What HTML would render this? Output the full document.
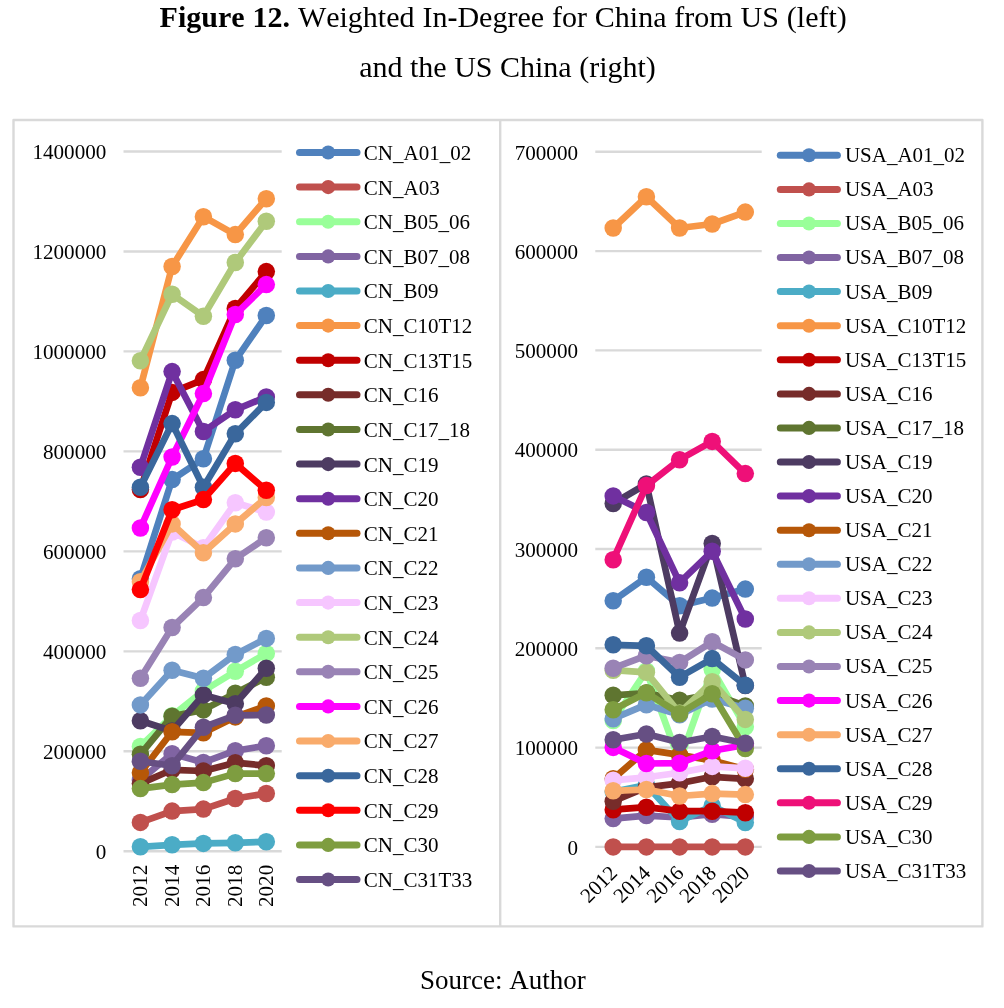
<!DOCTYPE html>
<html><head><meta charset="utf-8"><title>Figure 12</title>
<style>
html,body{margin:0;padding:0;background:#fff}
body{width:1004px;height:1008px;overflow:hidden;font-family:"Liberation Serif","Times New Roman",serif;color:#000}
svg{display:block}
text{font-kerning:none;font-family:"Liberation Serif","Times New Roman",serif;fill:#000}
.ax{font-size:21.1px}
.lg{font-size:21px}
.g{stroke:#D9D9D9;stroke-width:2.4}
.s{fill:none;stroke-linejoin:round;stroke-linecap:round}
</style></head><body>
<svg width="1004" height="1008" viewBox="0 0 1004 1008">
<rect width="1004" height="1008" fill="#fff"/>
<text x="503.2" y="26.5" text-anchor="middle" font-size="30px" word-spacing="0.4"><tspan font-weight="bold">Figure 12.</tspan> Weighted In<tspan font-weight="bold">-</tspan>Degree for China from US (left)</text>
<text x="507.5" y="77" text-anchor="middle" font-size="30px">and the US China (right)</text>
<rect x="13.5" y="120" width="968.9" height="806.4" fill="#fff" stroke="#D9D9D9" stroke-width="2.4" stroke-linejoin="round"/>
<line x1="500.2" y1="120" x2="500.2" y2="926.4" class="g"/>

<line x1="123.5" y1="851.3" x2="281.7" y2="851.3" class="g"/>
<text x="106.3" y="859.0" text-anchor="end" class="ax">0</text>
<line x1="123.5" y1="751.3" x2="281.7" y2="751.3" class="g"/>
<text x="106.3" y="759.0" text-anchor="end" class="ax">200000</text>
<line x1="123.5" y1="651.4" x2="281.7" y2="651.4" class="g"/>
<text x="106.3" y="659.1" text-anchor="end" class="ax">400000</text>
<line x1="123.5" y1="551.4" x2="281.7" y2="551.4" class="g"/>
<text x="106.3" y="559.1" text-anchor="end" class="ax">600000</text>
<line x1="123.5" y1="451.4" x2="281.7" y2="451.4" class="g"/>
<text x="106.3" y="459.1" text-anchor="end" class="ax">800000</text>
<line x1="123.5" y1="351.4" x2="281.7" y2="351.4" class="g"/>
<text x="106.3" y="359.1" text-anchor="end" class="ax">1000000</text>
<line x1="123.5" y1="251.5" x2="281.7" y2="251.5" class="g"/>
<text x="106.3" y="259.2" text-anchor="end" class="ax">1200000</text>
<line x1="123.5" y1="151.5" x2="281.7" y2="151.5" class="g"/>
<text x="106.3" y="159.2" text-anchor="end" class="ax">1400000</text>
<line x1="595.3" y1="846.9" x2="761.7" y2="846.9" class="g"/>
<text x="578" y="854.6" text-anchor="end" class="ax">0</text>
<line x1="595.3" y1="747.6" x2="761.7" y2="747.6" class="g"/>
<text x="578" y="755.3" text-anchor="end" class="ax">100000</text>
<line x1="595.3" y1="648.3" x2="761.7" y2="648.3" class="g"/>
<text x="578" y="656.0" text-anchor="end" class="ax">200000</text>
<line x1="595.3" y1="549.0" x2="761.7" y2="549.0" class="g"/>
<text x="578" y="556.7" text-anchor="end" class="ax">300000</text>
<line x1="595.3" y1="449.7" x2="761.7" y2="449.7" class="g"/>
<text x="578" y="457.4" text-anchor="end" class="ax">400000</text>
<line x1="595.3" y1="350.4" x2="761.7" y2="350.4" class="g"/>
<text x="578" y="358.1" text-anchor="end" class="ax">500000</text>
<line x1="595.3" y1="251.1" x2="761.7" y2="251.1" class="g"/>
<text x="578" y="258.8" text-anchor="end" class="ax">600000</text>
<line x1="595.3" y1="151.8" x2="761.7" y2="151.8" class="g"/>
<text x="578" y="159.5" text-anchor="end" class="ax">700000</text>
<g fill="#4F81BD" stroke="#4F81BD"><polyline points="140.4,578.7 172.1,479.6 203.4,458.8 235.3,360.3 266.3,315.5" class="s" stroke-width="6.7"/><circle cx="140.4" cy="578.7" r="8.75" stroke="none"/><circle cx="172.1" cy="479.6" r="8.75" stroke="none"/><circle cx="203.4" cy="458.8" r="8.75" stroke="none"/><circle cx="235.3" cy="360.3" r="8.75" stroke="none"/><circle cx="266.3" cy="315.5" r="8.75" stroke="none"/></g>
<g fill="#C0504D" stroke="#C0504D"><polyline points="140.4,822.4 172.1,811.1 203.4,809.1 235.3,798.5 266.3,793.5" class="s" stroke-width="6.7"/><circle cx="140.4" cy="822.4" r="8.75" stroke="none"/><circle cx="172.1" cy="811.1" r="8.75" stroke="none"/><circle cx="203.4" cy="809.1" r="8.75" stroke="none"/><circle cx="235.3" cy="798.5" r="8.75" stroke="none"/><circle cx="266.3" cy="793.5" r="8.75" stroke="none"/></g>
<g fill="#99FF99" stroke="#99FF99"><polyline points="140.4,746.5 172.1,715.8 203.4,691.0 235.3,671.3 266.3,653.4" class="s" stroke-width="6.7"/><circle cx="140.4" cy="746.5" r="8.75" stroke="none"/><circle cx="172.1" cy="715.8" r="8.75" stroke="none"/><circle cx="203.4" cy="691.0" r="8.75" stroke="none"/><circle cx="235.3" cy="671.3" r="8.75" stroke="none"/><circle cx="266.3" cy="653.4" r="8.75" stroke="none"/></g>
<g fill="#8064A2" stroke="#8064A2"><polyline points="140.4,780.0 172.1,753.7 203.4,762.4 235.3,750.7 266.3,745.7" class="s" stroke-width="6.7"/><circle cx="140.4" cy="780.0" r="8.75" stroke="none"/><circle cx="172.1" cy="753.7" r="8.75" stroke="none"/><circle cx="203.4" cy="762.4" r="8.75" stroke="none"/><circle cx="235.3" cy="750.7" r="8.75" stroke="none"/><circle cx="266.3" cy="745.7" r="8.75" stroke="none"/></g>
<g fill="#4BACC6" stroke="#4BACC6"><polyline points="140.4,846.8 172.1,844.8 203.4,843.4 235.3,842.8 266.3,841.8" class="s" stroke-width="6.7"/><circle cx="140.4" cy="846.8" r="8.75" stroke="none"/><circle cx="172.1" cy="844.8" r="8.75" stroke="none"/><circle cx="203.4" cy="843.4" r="8.75" stroke="none"/><circle cx="235.3" cy="842.8" r="8.75" stroke="none"/><circle cx="266.3" cy="841.8" r="8.75" stroke="none"/></g>
<g fill="#F79646" stroke="#F79646"><polyline points="140.4,387.7 172.1,266.5 203.4,216.7 235.3,234.6 266.3,198.7" class="s" stroke-width="6.7"/><circle cx="140.4" cy="387.7" r="8.75" stroke="none"/><circle cx="172.1" cy="266.5" r="8.75" stroke="none"/><circle cx="203.4" cy="216.7" r="8.75" stroke="none"/><circle cx="235.3" cy="234.6" r="8.75" stroke="none"/><circle cx="266.3" cy="198.7" r="8.75" stroke="none"/></g>
<g fill="#C00000" stroke="#C00000"><polyline points="140.4,489.5 172.1,392.4 203.4,379.6 235.3,308.5 266.3,271.6" class="s" stroke-width="6.7"/><circle cx="140.4" cy="489.5" r="8.75" stroke="none"/><circle cx="172.1" cy="392.4" r="8.75" stroke="none"/><circle cx="203.4" cy="379.6" r="8.75" stroke="none"/><circle cx="235.3" cy="308.5" r="8.75" stroke="none"/><circle cx="266.3" cy="271.6" r="8.75" stroke="none"/></g>
<g fill="#772C2A" stroke="#772C2A"><polyline points="140.4,783.6 172.1,769.8 203.4,771.0 235.3,762.7 266.3,765.7" class="s" stroke-width="6.7"/><circle cx="140.4" cy="783.6" r="8.75" stroke="none"/><circle cx="172.1" cy="769.8" r="8.75" stroke="none"/><circle cx="203.4" cy="771.0" r="8.75" stroke="none"/><circle cx="235.3" cy="762.7" r="8.75" stroke="none"/><circle cx="266.3" cy="765.7" r="8.75" stroke="none"/></g>
<g fill="#5F7530" stroke="#5F7530"><polyline points="140.4,754.3 172.1,716.2 203.4,709.9 235.3,693.3 266.3,677.3" class="s" stroke-width="6.7"/><circle cx="140.4" cy="754.3" r="8.75" stroke="none"/><circle cx="172.1" cy="716.2" r="8.75" stroke="none"/><circle cx="203.4" cy="709.9" r="8.75" stroke="none"/><circle cx="235.3" cy="693.3" r="8.75" stroke="none"/><circle cx="266.3" cy="677.3" r="8.75" stroke="none"/></g>
<g fill="#4D3B62" stroke="#4D3B62"><polyline points="140.4,720.8 172.1,731.0 203.4,694.9 235.3,703.7 266.3,668.3" class="s" stroke-width="6.7"/><circle cx="140.4" cy="720.8" r="8.75" stroke="none"/><circle cx="172.1" cy="731.0" r="8.75" stroke="none"/><circle cx="203.4" cy="694.9" r="8.75" stroke="none"/><circle cx="235.3" cy="703.7" r="8.75" stroke="none"/><circle cx="266.3" cy="668.3" r="8.75" stroke="none"/></g>
<g fill="#7030A0" stroke="#7030A0"><polyline points="140.4,467.2 172.1,371.6 203.4,431.5 235.3,409.8 266.3,396.9" class="s" stroke-width="6.7"/><circle cx="140.4" cy="467.2" r="8.75" stroke="none"/><circle cx="172.1" cy="371.6" r="8.75" stroke="none"/><circle cx="203.4" cy="431.5" r="8.75" stroke="none"/><circle cx="235.3" cy="409.8" r="8.75" stroke="none"/><circle cx="266.3" cy="396.9" r="8.75" stroke="none"/></g>
<g fill="#B65708" stroke="#B65708"><polyline points="140.4,772.7 172.1,731.8 203.4,732.8 235.3,716.9 266.3,705.9" class="s" stroke-width="6.7"/><circle cx="140.4" cy="772.7" r="8.75" stroke="none"/><circle cx="172.1" cy="731.8" r="8.75" stroke="none"/><circle cx="203.4" cy="732.8" r="8.75" stroke="none"/><circle cx="235.3" cy="716.9" r="8.75" stroke="none"/><circle cx="266.3" cy="705.9" r="8.75" stroke="none"/></g>
<g fill="#729ACA" stroke="#729ACA"><polyline points="140.4,704.9 172.1,670.3 203.4,678.3 235.3,654.4 266.3,638.4" class="s" stroke-width="6.7"/><circle cx="140.4" cy="704.9" r="8.75" stroke="none"/><circle cx="172.1" cy="670.3" r="8.75" stroke="none"/><circle cx="203.4" cy="678.3" r="8.75" stroke="none"/><circle cx="235.3" cy="654.4" r="8.75" stroke="none"/><circle cx="266.3" cy="638.4" r="8.75" stroke="none"/></g>
<g fill="#F6C6FF" stroke="#F6C6FF"><polyline points="140.4,620.5 172.1,532.0 203.4,547.8 235.3,502.8 266.3,512.1" class="s" stroke-width="6.7"/><circle cx="140.4" cy="620.5" r="8.75" stroke="none"/><circle cx="172.1" cy="532.0" r="8.75" stroke="none"/><circle cx="203.4" cy="547.8" r="8.75" stroke="none"/><circle cx="235.3" cy="502.8" r="8.75" stroke="none"/><circle cx="266.3" cy="512.1" r="8.75" stroke="none"/></g>
<g fill="#AFC97A" stroke="#AFC97A"><polyline points="140.4,360.8 172.1,294.3 203.4,316.3 235.3,262.5 266.3,221.2" class="s" stroke-width="6.7"/><circle cx="140.4" cy="360.8" r="8.75" stroke="none"/><circle cx="172.1" cy="294.3" r="8.75" stroke="none"/><circle cx="203.4" cy="316.3" r="8.75" stroke="none"/><circle cx="235.3" cy="262.5" r="8.75" stroke="none"/><circle cx="266.3" cy="221.2" r="8.75" stroke="none"/></g>
<g fill="#9983B5" stroke="#9983B5"><polyline points="140.4,678.3 172.1,627.5 203.4,597.6 235.3,558.8 266.3,537.8" class="s" stroke-width="6.7"/><circle cx="140.4" cy="678.3" r="8.75" stroke="none"/><circle cx="172.1" cy="627.5" r="8.75" stroke="none"/><circle cx="203.4" cy="597.6" r="8.75" stroke="none"/><circle cx="235.3" cy="558.8" r="8.75" stroke="none"/><circle cx="266.3" cy="537.8" r="8.75" stroke="none"/></g>
<g fill="#FF00FF" stroke="#FF00FF"><polyline points="140.4,528.0 172.1,457.0 203.4,393.6 235.3,314.5 266.3,284.6" class="s" stroke-width="6.7"/><circle cx="140.4" cy="528.0" r="8.75" stroke="none"/><circle cx="172.1" cy="457.0" r="8.75" stroke="none"/><circle cx="203.4" cy="393.6" r="8.75" stroke="none"/><circle cx="235.3" cy="314.5" r="8.75" stroke="none"/><circle cx="266.3" cy="284.6" r="8.75" stroke="none"/></g>
<g fill="#F9AB6B" stroke="#F9AB6B"><polyline points="140.4,581.7 172.1,523.9 203.4,552.8 235.3,523.9 266.3,497.5" class="s" stroke-width="6.7"/><circle cx="140.4" cy="581.7" r="8.75" stroke="none"/><circle cx="172.1" cy="523.9" r="8.75" stroke="none"/><circle cx="203.4" cy="552.8" r="8.75" stroke="none"/><circle cx="235.3" cy="523.9" r="8.75" stroke="none"/><circle cx="266.3" cy="497.5" r="8.75" stroke="none"/></g>
<g fill="#3A679C" stroke="#3A679C"><polyline points="140.4,487.3 172.1,423.6 203.4,487.2 235.3,433.8 266.3,402.4" class="s" stroke-width="6.7"/><circle cx="140.4" cy="487.3" r="8.75" stroke="none"/><circle cx="172.1" cy="423.6" r="8.75" stroke="none"/><circle cx="203.4" cy="487.2" r="8.75" stroke="none"/><circle cx="235.3" cy="433.8" r="8.75" stroke="none"/><circle cx="266.3" cy="402.4" r="8.75" stroke="none"/></g>
<g fill="#FF0000" stroke="#FF0000"><polyline points="140.4,589.6 172.1,509.8 203.4,499.6 235.3,463.4 266.3,490.3" class="s" stroke-width="6.7"/><circle cx="140.4" cy="589.6" r="8.75" stroke="none"/><circle cx="172.1" cy="509.8" r="8.75" stroke="none"/><circle cx="203.4" cy="499.6" r="8.75" stroke="none"/><circle cx="235.3" cy="463.4" r="8.75" stroke="none"/><circle cx="266.3" cy="490.3" r="8.75" stroke="none"/></g>
<g fill="#7E9D40" stroke="#7E9D40"><polyline points="140.4,788.6 172.1,784.6 203.4,782.6 235.3,773.6 266.3,773.6" class="s" stroke-width="6.7"/><circle cx="140.4" cy="788.6" r="8.75" stroke="none"/><circle cx="172.1" cy="784.6" r="8.75" stroke="none"/><circle cx="203.4" cy="782.6" r="8.75" stroke="none"/><circle cx="235.3" cy="773.6" r="8.75" stroke="none"/><circle cx="266.3" cy="773.6" r="8.75" stroke="none"/></g>
<g fill="#664F83" stroke="#664F83"><polyline points="140.4,761.3 172.1,765.7 203.4,727.2 235.3,715.3 266.3,715.0" class="s" stroke-width="6.7"/><circle cx="140.4" cy="761.3" r="8.75" stroke="none"/><circle cx="172.1" cy="765.7" r="8.75" stroke="none"/><circle cx="203.4" cy="727.2" r="8.75" stroke="none"/><circle cx="235.3" cy="715.3" r="8.75" stroke="none"/><circle cx="266.3" cy="715.0" r="8.75" stroke="none"/></g>
<g fill="#4F81BD" stroke="#4F81BD"><polyline points="613.2,600.7 646.4,577.2 679.6,605.7 712.2,598.1 745.3,589.1" class="s" stroke-width="6.7"/><circle cx="613.2" cy="600.7" r="8.75" stroke="none"/><circle cx="646.4" cy="577.2" r="8.75" stroke="none"/><circle cx="679.6" cy="605.7" r="8.75" stroke="none"/><circle cx="712.2" cy="598.1" r="8.75" stroke="none"/><circle cx="745.3" cy="589.1" r="8.75" stroke="none"/></g>
<g fill="#C0504D" stroke="#C0504D"><polyline points="613.2,846.9 646.4,846.9 679.6,846.9 712.2,846.9 745.3,846.9" class="s" stroke-width="6.7"/><circle cx="613.2" cy="846.9" r="8.75" stroke="none"/><circle cx="646.4" cy="846.9" r="8.75" stroke="none"/><circle cx="679.6" cy="846.9" r="8.75" stroke="none"/><circle cx="712.2" cy="846.9" r="8.75" stroke="none"/><circle cx="745.3" cy="846.9" r="8.75" stroke="none"/></g>
<g fill="#99FF99" stroke="#99FF99"><polyline points="613.2,720.5 646.4,670.9 679.6,761.5 712.2,669.3 745.3,726.7" class="s" stroke-width="6.7"/><circle cx="613.2" cy="720.5" r="8.75" stroke="none"/><circle cx="646.4" cy="670.9" r="8.75" stroke="none"/><circle cx="679.6" cy="761.5" r="8.75" stroke="none"/><circle cx="712.2" cy="669.3" r="8.75" stroke="none"/><circle cx="745.3" cy="726.7" r="8.75" stroke="none"/></g>
<g fill="#8064A2" stroke="#8064A2"><polyline points="613.2,818.6 646.4,815.6 679.6,817.5 712.2,814.2 745.3,817.0" class="s" stroke-width="6.7"/><circle cx="613.2" cy="818.6" r="8.75" stroke="none"/><circle cx="646.4" cy="815.6" r="8.75" stroke="none"/><circle cx="679.6" cy="817.5" r="8.75" stroke="none"/><circle cx="712.2" cy="814.2" r="8.75" stroke="none"/><circle cx="745.3" cy="817.0" r="8.75" stroke="none"/></g>
<g fill="#4BACC6" stroke="#4BACC6"><polyline points="613.2,791.8 646.4,785.0 679.6,821.5 712.2,805.7 745.3,822.6" class="s" stroke-width="6.7"/><circle cx="613.2" cy="791.8" r="8.75" stroke="none"/><circle cx="646.4" cy="785.0" r="8.75" stroke="none"/><circle cx="679.6" cy="821.5" r="8.75" stroke="none"/><circle cx="712.2" cy="805.7" r="8.75" stroke="none"/><circle cx="745.3" cy="822.6" r="8.75" stroke="none"/></g>
<g fill="#F79646" stroke="#F79646"><polyline points="613.2,228.0 646.4,196.7 679.6,228.0 712.2,224.0 745.3,212.1" class="s" stroke-width="6.7"/><circle cx="613.2" cy="228.0" r="8.75" stroke="none"/><circle cx="646.4" cy="196.7" r="8.75" stroke="none"/><circle cx="679.6" cy="228.0" r="8.75" stroke="none"/><circle cx="712.2" cy="224.0" r="8.75" stroke="none"/><circle cx="745.3" cy="212.1" r="8.75" stroke="none"/></g>
<g fill="#C00000" stroke="#C00000"><polyline points="613.2,809.7 646.4,807.2 679.6,811.2 712.2,811.2 745.3,812.7" class="s" stroke-width="6.7"/><circle cx="613.2" cy="809.7" r="8.75" stroke="none"/><circle cx="646.4" cy="807.2" r="8.75" stroke="none"/><circle cx="679.6" cy="811.2" r="8.75" stroke="none"/><circle cx="712.2" cy="811.2" r="8.75" stroke="none"/><circle cx="745.3" cy="812.7" r="8.75" stroke="none"/></g>
<g fill="#772C2A" stroke="#772C2A"><polyline points="613.2,801.2 646.4,787.3 679.6,783.3 712.2,776.8 745.3,778.8" class="s" stroke-width="6.7"/><circle cx="613.2" cy="801.2" r="8.75" stroke="none"/><circle cx="646.4" cy="787.3" r="8.75" stroke="none"/><circle cx="679.6" cy="783.3" r="8.75" stroke="none"/><circle cx="712.2" cy="776.8" r="8.75" stroke="none"/><circle cx="745.3" cy="778.8" r="8.75" stroke="none"/></g>
<g fill="#5F7530" stroke="#5F7530"><polyline points="613.2,695.3 646.4,693.0 679.6,700.3 712.2,694.0 745.3,706.0" class="s" stroke-width="6.7"/><circle cx="613.2" cy="695.3" r="8.75" stroke="none"/><circle cx="646.4" cy="693.0" r="8.75" stroke="none"/><circle cx="679.6" cy="700.3" r="8.75" stroke="none"/><circle cx="712.2" cy="694.0" r="8.75" stroke="none"/><circle cx="745.3" cy="706.0" r="8.75" stroke="none"/></g>
<g fill="#4D3B62" stroke="#4D3B62"><polyline points="613.2,503.5 646.4,484.0 679.6,633.1 712.2,543.4 745.3,685.5" class="s" stroke-width="6.7"/><circle cx="613.2" cy="503.5" r="8.75" stroke="none"/><circle cx="646.4" cy="484.0" r="8.75" stroke="none"/><circle cx="679.6" cy="633.1" r="8.75" stroke="none"/><circle cx="712.2" cy="543.4" r="8.75" stroke="none"/><circle cx="745.3" cy="685.5" r="8.75" stroke="none"/></g>
<g fill="#7030A0" stroke="#7030A0"><polyline points="613.2,495.9 646.4,512.5 679.6,582.7 712.2,551.2 745.3,619.0" class="s" stroke-width="6.7"/><circle cx="613.2" cy="495.9" r="8.75" stroke="none"/><circle cx="646.4" cy="512.5" r="8.75" stroke="none"/><circle cx="679.6" cy="582.7" r="8.75" stroke="none"/><circle cx="712.2" cy="551.2" r="8.75" stroke="none"/><circle cx="745.3" cy="619.0" r="8.75" stroke="none"/></g>
<g fill="#B65708" stroke="#B65708"><polyline points="613.2,778.8 646.4,749.9 679.6,754.9 712.2,760.5 745.3,769.3" class="s" stroke-width="6.7"/><circle cx="613.2" cy="778.8" r="8.75" stroke="none"/><circle cx="646.4" cy="749.9" r="8.75" stroke="none"/><circle cx="679.6" cy="754.9" r="8.75" stroke="none"/><circle cx="712.2" cy="760.5" r="8.75" stroke="none"/><circle cx="745.3" cy="769.3" r="8.75" stroke="none"/></g>
<g fill="#729ACA" stroke="#729ACA"><polyline points="613.2,718.7 646.4,704.7 679.6,714.7 712.2,699.0 745.3,708.3" class="s" stroke-width="6.7"/><circle cx="613.2" cy="718.7" r="8.75" stroke="none"/><circle cx="646.4" cy="704.7" r="8.75" stroke="none"/><circle cx="679.6" cy="714.7" r="8.75" stroke="none"/><circle cx="712.2" cy="699.0" r="8.75" stroke="none"/><circle cx="745.3" cy="708.3" r="8.75" stroke="none"/></g>
<g fill="#F6C6FF" stroke="#F6C6FF"><polyline points="613.2,780.3 646.4,777.3 679.6,772.8 712.2,766.4 745.3,768.3" class="s" stroke-width="6.7"/><circle cx="613.2" cy="780.3" r="8.75" stroke="none"/><circle cx="646.4" cy="777.3" r="8.75" stroke="none"/><circle cx="679.6" cy="772.8" r="8.75" stroke="none"/><circle cx="712.2" cy="766.4" r="8.75" stroke="none"/><circle cx="745.3" cy="768.3" r="8.75" stroke="none"/></g>
<g fill="#AFC97A" stroke="#AFC97A"><polyline points="613.2,670.2 646.4,672.3 679.6,713.0 712.2,681.8 745.3,719.4" class="s" stroke-width="6.7"/><circle cx="613.2" cy="670.2" r="8.75" stroke="none"/><circle cx="646.4" cy="672.3" r="8.75" stroke="none"/><circle cx="679.6" cy="713.0" r="8.75" stroke="none"/><circle cx="712.2" cy="681.8" r="8.75" stroke="none"/><circle cx="745.3" cy="719.4" r="8.75" stroke="none"/></g>
<g fill="#9983B5" stroke="#9983B5"><polyline points="613.2,668.2 646.4,655.7 679.6,662.4 712.2,641.8 745.3,659.9" class="s" stroke-width="6.7"/><circle cx="613.2" cy="668.2" r="8.75" stroke="none"/><circle cx="646.4" cy="655.7" r="8.75" stroke="none"/><circle cx="679.6" cy="662.4" r="8.75" stroke="none"/><circle cx="712.2" cy="641.8" r="8.75" stroke="none"/><circle cx="745.3" cy="659.9" r="8.75" stroke="none"/></g>
<g fill="#FF00FF" stroke="#FF00FF"><polyline points="613.2,747.4 646.4,763.5 679.6,763.2 712.2,750.8 745.3,745.0" class="s" stroke-width="6.7"/><circle cx="613.2" cy="747.4" r="8.75" stroke="none"/><circle cx="646.4" cy="763.5" r="8.75" stroke="none"/><circle cx="679.6" cy="763.2" r="8.75" stroke="none"/><circle cx="712.2" cy="750.8" r="8.75" stroke="none"/><circle cx="745.3" cy="745.0" r="8.75" stroke="none"/></g>
<g fill="#F9AB6B" stroke="#F9AB6B"><polyline points="613.2,790.8 646.4,789.5 679.6,796.0 712.2,793.6 745.3,794.6" class="s" stroke-width="6.7"/><circle cx="613.2" cy="790.8" r="8.75" stroke="none"/><circle cx="646.4" cy="789.5" r="8.75" stroke="none"/><circle cx="679.6" cy="796.0" r="8.75" stroke="none"/><circle cx="712.2" cy="793.6" r="8.75" stroke="none"/><circle cx="745.3" cy="794.6" r="8.75" stroke="none"/></g>
<g fill="#3A679C" stroke="#3A679C"><polyline points="613.2,644.8 646.4,645.8 679.6,677.2 712.2,658.6 745.3,685.3" class="s" stroke-width="6.7"/><circle cx="613.2" cy="644.8" r="8.75" stroke="none"/><circle cx="646.4" cy="645.8" r="8.75" stroke="none"/><circle cx="679.6" cy="677.2" r="8.75" stroke="none"/><circle cx="712.2" cy="658.6" r="8.75" stroke="none"/><circle cx="745.3" cy="685.3" r="8.75" stroke="none"/></g>
<g fill="#EE1078" stroke="#EE1078"><polyline points="613.2,559.7 646.4,485.6 679.6,459.7 712.2,441.4 745.3,473.6" class="s" stroke-width="6.7"/><circle cx="613.2" cy="559.7" r="8.75" stroke="none"/><circle cx="646.4" cy="485.6" r="8.75" stroke="none"/><circle cx="679.6" cy="459.7" r="8.75" stroke="none"/><circle cx="712.2" cy="441.4" r="8.75" stroke="none"/><circle cx="745.3" cy="473.6" r="8.75" stroke="none"/></g>
<g fill="#7E9D40" stroke="#7E9D40"><polyline points="613.2,709.7 646.4,692.8 679.6,713.7 712.2,693.8 745.3,748.5" class="s" stroke-width="6.7"/><circle cx="613.2" cy="709.7" r="8.75" stroke="none"/><circle cx="646.4" cy="692.8" r="8.75" stroke="none"/><circle cx="679.6" cy="713.7" r="8.75" stroke="none"/><circle cx="712.2" cy="693.8" r="8.75" stroke="none"/><circle cx="745.3" cy="748.5" r="8.75" stroke="none"/></g>
<g fill="#664F83" stroke="#664F83"><polyline points="613.2,739.8 646.4,734.0 679.6,742.5 712.2,736.5 745.3,743.3" class="s" stroke-width="6.7"/><circle cx="613.2" cy="739.8" r="8.75" stroke="none"/><circle cx="646.4" cy="734.0" r="8.75" stroke="none"/><circle cx="679.6" cy="742.5" r="8.75" stroke="none"/><circle cx="712.2" cy="736.5" r="8.75" stroke="none"/><circle cx="745.3" cy="743.3" r="8.75" stroke="none"/></g>
<text transform="translate(147.4,864.8) rotate(-90)" text-anchor="end" class="ax">2012</text>
<text transform="translate(179.1,864.8) rotate(-90)" text-anchor="end" class="ax">2014</text>
<text transform="translate(210.4,864.8) rotate(-90)" text-anchor="end" class="ax">2016</text>
<text transform="translate(242.3,864.8) rotate(-90)" text-anchor="end" class="ax">2018</text>
<text transform="translate(273.3,864.8) rotate(-90)" text-anchor="end" class="ax">2020</text>
<text transform="translate(618.5,874.2) rotate(-45)" text-anchor="end" class="ax">2012</text>
<text transform="translate(651.7,874.2) rotate(-45)" text-anchor="end" class="ax">2014</text>
<text transform="translate(684.9,874.2) rotate(-45)" text-anchor="end" class="ax">2016</text>
<text transform="translate(717.5,874.2) rotate(-45)" text-anchor="end" class="ax">2018</text>
<text transform="translate(750.6,874.2) rotate(-45)" text-anchor="end" class="ax">2020</text>
<g stroke="#4F81BD" fill="#4F81BD"><line x1="299.5" y1="152.5" x2="357" y2="152.5" stroke-width="7" stroke-linecap="round"/><circle cx="328.2" cy="152.5" r="7.05" stroke="none"/></g>
<text x="363.8" y="159.9" class="lg">CN_A01_02</text>
<g stroke="#C0504D" fill="#C0504D"><line x1="299.5" y1="187.1" x2="357" y2="187.1" stroke-width="7" stroke-linecap="round"/><circle cx="328.2" cy="187.1" r="7.05" stroke="none"/></g>
<text x="363.8" y="194.5" class="lg">CN_A03</text>
<g stroke="#99FF99" fill="#99FF99"><line x1="299.5" y1="221.7" x2="357" y2="221.7" stroke-width="7" stroke-linecap="round"/><circle cx="328.2" cy="221.7" r="7.05" stroke="none"/></g>
<text x="363.8" y="229.1" class="lg">CN_B05_06</text>
<g stroke="#8064A2" fill="#8064A2"><line x1="299.5" y1="256.4" x2="357" y2="256.4" stroke-width="7" stroke-linecap="round"/><circle cx="328.2" cy="256.4" r="7.05" stroke="none"/></g>
<text x="363.8" y="263.8" class="lg">CN_B07_08</text>
<g stroke="#4BACC6" fill="#4BACC6"><line x1="299.5" y1="291.0" x2="357" y2="291.0" stroke-width="7" stroke-linecap="round"/><circle cx="328.2" cy="291.0" r="7.05" stroke="none"/></g>
<text x="363.8" y="298.4" class="lg">CN_B09</text>
<g stroke="#F79646" fill="#F79646"><line x1="299.5" y1="325.6" x2="357" y2="325.6" stroke-width="7" stroke-linecap="round"/><circle cx="328.2" cy="325.6" r="7.05" stroke="none"/></g>
<text x="363.8" y="333.0" class="lg">CN_C10T12</text>
<g stroke="#C00000" fill="#C00000"><line x1="299.5" y1="360.2" x2="357" y2="360.2" stroke-width="7" stroke-linecap="round"/><circle cx="328.2" cy="360.2" r="7.05" stroke="none"/></g>
<text x="363.8" y="367.6" class="lg">CN_C13T15</text>
<g stroke="#772C2A" fill="#772C2A"><line x1="299.5" y1="394.8" x2="357" y2="394.8" stroke-width="7" stroke-linecap="round"/><circle cx="328.2" cy="394.8" r="7.05" stroke="none"/></g>
<text x="363.8" y="402.2" class="lg">CN_C16</text>
<g stroke="#5F7530" fill="#5F7530"><line x1="299.5" y1="429.5" x2="357" y2="429.5" stroke-width="7" stroke-linecap="round"/><circle cx="328.2" cy="429.5" r="7.05" stroke="none"/></g>
<text x="363.8" y="436.9" class="lg">CN_C17_18</text>
<g stroke="#4D3B62" fill="#4D3B62"><line x1="299.5" y1="464.1" x2="357" y2="464.1" stroke-width="7" stroke-linecap="round"/><circle cx="328.2" cy="464.1" r="7.05" stroke="none"/></g>
<text x="363.8" y="471.5" class="lg">CN_C19</text>
<g stroke="#7030A0" fill="#7030A0"><line x1="299.5" y1="498.7" x2="357" y2="498.7" stroke-width="7" stroke-linecap="round"/><circle cx="328.2" cy="498.7" r="7.05" stroke="none"/></g>
<text x="363.8" y="506.1" class="lg">CN_C20</text>
<g stroke="#B65708" fill="#B65708"><line x1="299.5" y1="533.3" x2="357" y2="533.3" stroke-width="7" stroke-linecap="round"/><circle cx="328.2" cy="533.3" r="7.05" stroke="none"/></g>
<text x="363.8" y="540.7" class="lg">CN_C21</text>
<g stroke="#729ACA" fill="#729ACA"><line x1="299.5" y1="567.9" x2="357" y2="567.9" stroke-width="7" stroke-linecap="round"/><circle cx="328.2" cy="567.9" r="7.05" stroke="none"/></g>
<text x="363.8" y="575.3" class="lg">CN_C22</text>
<g stroke="#F6C6FF" fill="#F6C6FF"><line x1="299.5" y1="602.6" x2="357" y2="602.6" stroke-width="7" stroke-linecap="round"/><circle cx="328.2" cy="602.6" r="7.05" stroke="none"/></g>
<text x="363.8" y="610.0" class="lg">CN_C23</text>
<g stroke="#AFC97A" fill="#AFC97A"><line x1="299.5" y1="637.2" x2="357" y2="637.2" stroke-width="7" stroke-linecap="round"/><circle cx="328.2" cy="637.2" r="7.05" stroke="none"/></g>
<text x="363.8" y="644.6" class="lg">CN_C24</text>
<g stroke="#9983B5" fill="#9983B5"><line x1="299.5" y1="671.8" x2="357" y2="671.8" stroke-width="7" stroke-linecap="round"/><circle cx="328.2" cy="671.8" r="7.05" stroke="none"/></g>
<text x="363.8" y="679.2" class="lg">CN_C25</text>
<g stroke="#FF00FF" fill="#FF00FF"><line x1="299.5" y1="706.4" x2="357" y2="706.4" stroke-width="7" stroke-linecap="round"/><circle cx="328.2" cy="706.4" r="7.05" stroke="none"/></g>
<text x="363.8" y="713.8" class="lg">CN_C26</text>
<g stroke="#F9AB6B" fill="#F9AB6B"><line x1="299.5" y1="741.0" x2="357" y2="741.0" stroke-width="7" stroke-linecap="round"/><circle cx="328.2" cy="741.0" r="7.05" stroke="none"/></g>
<text x="363.8" y="748.4" class="lg">CN_C27</text>
<g stroke="#3A679C" fill="#3A679C"><line x1="299.5" y1="775.7" x2="357" y2="775.7" stroke-width="7" stroke-linecap="round"/><circle cx="328.2" cy="775.7" r="7.05" stroke="none"/></g>
<text x="363.8" y="783.1" class="lg">CN_C28</text>
<g stroke="#FF0000" fill="#FF0000"><line x1="299.5" y1="810.3" x2="357" y2="810.3" stroke-width="7" stroke-linecap="round"/><circle cx="328.2" cy="810.3" r="7.05" stroke="none"/></g>
<text x="363.8" y="817.7" class="lg">CN_C29</text>
<g stroke="#7E9D40" fill="#7E9D40"><line x1="299.5" y1="844.9" x2="357" y2="844.9" stroke-width="7" stroke-linecap="round"/><circle cx="328.2" cy="844.9" r="7.05" stroke="none"/></g>
<text x="363.8" y="852.3" class="lg">CN_C30</text>
<g stroke="#664F83" fill="#664F83"><line x1="299.5" y1="879.5" x2="357" y2="879.5" stroke-width="7" stroke-linecap="round"/><circle cx="328.2" cy="879.5" r="7.05" stroke="none"/></g>
<text x="363.8" y="886.9" class="lg">CN_C31T33</text>
<g stroke="#4F81BD" fill="#4F81BD"><line x1="780.3" y1="155.3" x2="837.4" y2="155.3" stroke-width="7" stroke-linecap="round"/><circle cx="809" cy="155.3" r="7.05" stroke="none"/></g>
<text x="844.9" y="162.2" class="lg">USA_A01_02</text>
<g stroke="#C0504D" fill="#C0504D"><line x1="780.3" y1="189.4" x2="837.4" y2="189.4" stroke-width="7" stroke-linecap="round"/><circle cx="809" cy="189.4" r="7.05" stroke="none"/></g>
<text x="844.9" y="196.3" class="lg">USA_A03</text>
<g stroke="#99FF99" fill="#99FF99"><line x1="780.3" y1="223.5" x2="837.4" y2="223.5" stroke-width="7" stroke-linecap="round"/><circle cx="809" cy="223.5" r="7.05" stroke="none"/></g>
<text x="844.9" y="230.4" class="lg">USA_B05_06</text>
<g stroke="#8064A2" fill="#8064A2"><line x1="780.3" y1="257.5" x2="837.4" y2="257.5" stroke-width="7" stroke-linecap="round"/><circle cx="809" cy="257.5" r="7.05" stroke="none"/></g>
<text x="844.9" y="264.4" class="lg">USA_B07_08</text>
<g stroke="#4BACC6" fill="#4BACC6"><line x1="780.3" y1="291.6" x2="837.4" y2="291.6" stroke-width="7" stroke-linecap="round"/><circle cx="809" cy="291.6" r="7.05" stroke="none"/></g>
<text x="844.9" y="298.5" class="lg">USA_B09</text>
<g stroke="#F79646" fill="#F79646"><line x1="780.3" y1="325.7" x2="837.4" y2="325.7" stroke-width="7" stroke-linecap="round"/><circle cx="809" cy="325.7" r="7.05" stroke="none"/></g>
<text x="844.9" y="332.6" class="lg">USA_C10T12</text>
<g stroke="#C00000" fill="#C00000"><line x1="780.3" y1="359.8" x2="837.4" y2="359.8" stroke-width="7" stroke-linecap="round"/><circle cx="809" cy="359.8" r="7.05" stroke="none"/></g>
<text x="844.9" y="366.7" class="lg">USA_C13T15</text>
<g stroke="#772C2A" fill="#772C2A"><line x1="780.3" y1="393.9" x2="837.4" y2="393.9" stroke-width="7" stroke-linecap="round"/><circle cx="809" cy="393.9" r="7.05" stroke="none"/></g>
<text x="844.9" y="400.8" class="lg">USA_C16</text>
<g stroke="#5F7530" fill="#5F7530"><line x1="780.3" y1="427.9" x2="837.4" y2="427.9" stroke-width="7" stroke-linecap="round"/><circle cx="809" cy="427.9" r="7.05" stroke="none"/></g>
<text x="844.9" y="434.8" class="lg">USA_C17_18</text>
<g stroke="#4D3B62" fill="#4D3B62"><line x1="780.3" y1="462.0" x2="837.4" y2="462.0" stroke-width="7" stroke-linecap="round"/><circle cx="809" cy="462.0" r="7.05" stroke="none"/></g>
<text x="844.9" y="468.9" class="lg">USA_C19</text>
<g stroke="#7030A0" fill="#7030A0"><line x1="780.3" y1="496.1" x2="837.4" y2="496.1" stroke-width="7" stroke-linecap="round"/><circle cx="809" cy="496.1" r="7.05" stroke="none"/></g>
<text x="844.9" y="503.0" class="lg">USA_C20</text>
<g stroke="#B65708" fill="#B65708"><line x1="780.3" y1="530.2" x2="837.4" y2="530.2" stroke-width="7" stroke-linecap="round"/><circle cx="809" cy="530.2" r="7.05" stroke="none"/></g>
<text x="844.9" y="537.1" class="lg">USA_C21</text>
<g stroke="#729ACA" fill="#729ACA"><line x1="780.3" y1="564.3" x2="837.4" y2="564.3" stroke-width="7" stroke-linecap="round"/><circle cx="809" cy="564.3" r="7.05" stroke="none"/></g>
<text x="844.9" y="571.2" class="lg">USA_C22</text>
<g stroke="#F6C6FF" fill="#F6C6FF"><line x1="780.3" y1="598.3" x2="837.4" y2="598.3" stroke-width="7" stroke-linecap="round"/><circle cx="809" cy="598.3" r="7.05" stroke="none"/></g>
<text x="844.9" y="605.2" class="lg">USA_C23</text>
<g stroke="#AFC97A" fill="#AFC97A"><line x1="780.3" y1="632.4" x2="837.4" y2="632.4" stroke-width="7" stroke-linecap="round"/><circle cx="809" cy="632.4" r="7.05" stroke="none"/></g>
<text x="844.9" y="639.3" class="lg">USA_C24</text>
<g stroke="#9983B5" fill="#9983B5"><line x1="780.3" y1="666.5" x2="837.4" y2="666.5" stroke-width="7" stroke-linecap="round"/><circle cx="809" cy="666.5" r="7.05" stroke="none"/></g>
<text x="844.9" y="673.4" class="lg">USA_C25</text>
<g stroke="#FF00FF" fill="#FF00FF"><line x1="780.3" y1="700.6" x2="837.4" y2="700.6" stroke-width="7" stroke-linecap="round"/><circle cx="809" cy="700.6" r="7.05" stroke="none"/></g>
<text x="844.9" y="707.5" class="lg">USA_C26</text>
<g stroke="#F9AB6B" fill="#F9AB6B"><line x1="780.3" y1="734.7" x2="837.4" y2="734.7" stroke-width="7" stroke-linecap="round"/><circle cx="809" cy="734.7" r="7.05" stroke="none"/></g>
<text x="844.9" y="741.6" class="lg">USA_C27</text>
<g stroke="#3A679C" fill="#3A679C"><line x1="780.3" y1="768.7" x2="837.4" y2="768.7" stroke-width="7" stroke-linecap="round"/><circle cx="809" cy="768.7" r="7.05" stroke="none"/></g>
<text x="844.9" y="775.6" class="lg">USA_C28</text>
<g stroke="#EE1078" fill="#EE1078"><line x1="780.3" y1="802.8" x2="837.4" y2="802.8" stroke-width="7" stroke-linecap="round"/><circle cx="809" cy="802.8" r="7.05" stroke="none"/></g>
<text x="844.9" y="809.7" class="lg">USA_C29</text>
<g stroke="#7E9D40" fill="#7E9D40"><line x1="780.3" y1="836.9" x2="837.4" y2="836.9" stroke-width="7" stroke-linecap="round"/><circle cx="809" cy="836.9" r="7.05" stroke="none"/></g>
<text x="844.9" y="843.8" class="lg">USA_C30</text>
<g stroke="#664F83" fill="#664F83"><line x1="780.3" y1="871.0" x2="837.4" y2="871.0" stroke-width="7" stroke-linecap="round"/><circle cx="809" cy="871.0" r="7.05" stroke="none"/></g>
<text x="844.9" y="877.9" class="lg">USA_C31T33</text>
<text x="502.8" y="988.6" text-anchor="middle" font-size="27px">Source: Author</text>
</svg></body></html>
